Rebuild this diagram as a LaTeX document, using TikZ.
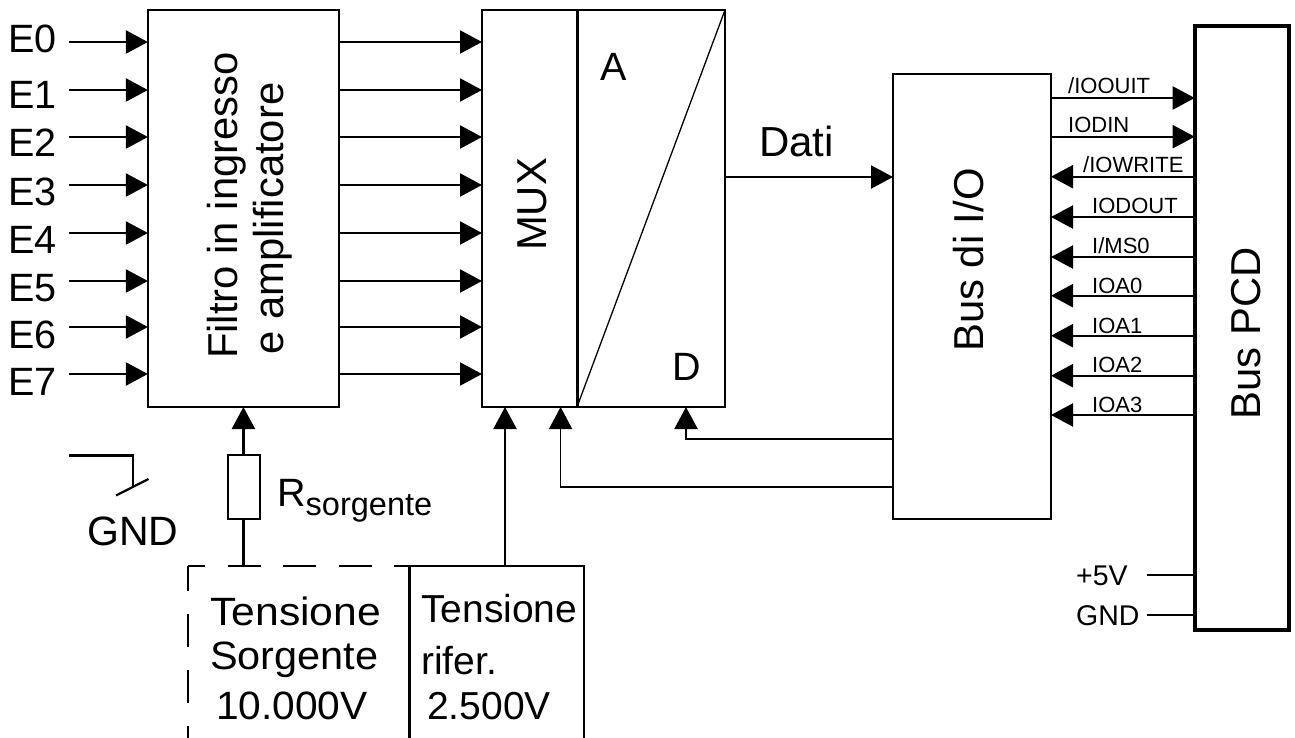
\documentclass[tikz,border=0pt]{standalone}
\usepackage{fontspec}
\setmainfont{Liberation Sans}
\usetikzlibrary{arrows.meta,calc}
\newcommand{\fsz}[1]{\fontsize{#1}{#1}\selectfont}
\newcommand{\wider}[2]{\scalebox{#1}[1]{#2}}
\tikzset{
  x=1pt,y=-1pt,
  box/.style={draw=black,line width=2.2pt,fill=none,inner sep=0pt,outer sep=0pt,minimum width=#1},
  wire/.style={draw=black,line width=2.2pt},
  thinwire/.style={draw=black,line width=1.3pt},
  arr/.style={wire,-{Triangle[length=22pt,width=23pt]}},
  big/.style={inner sep=0pt,anchor=base west,font=\fsz{39.5}},
  mid/.style={inner sep=0pt,anchor=base west,font=\fsz{28.5}},
  small/.style={inner sep=0pt,anchor=base west,font=\fsz{22}},
  vert/.style={inner sep=0pt,rotate=90,anchor=base,font=\fsz{41.8}},
}
\begin{document}
\begin{tikzpicture}
\useasboundingbox (0,0) rectangle (1295,738);
% blocks
\node[box=191pt,minimum height=397pt] (filter) at (243.4,208.5) {};
\node[box=95pt,minimum height=397pt] (mux) at (529.5,208.5) {};
\node[box=148pt,minimum height=397pt] (adc) at (651,208.5) {};
\node[box=158pt,minimum height=445pt] (bio) at (972,296.5) {};
\node[draw=black,line width=4pt,inner sep=0pt,outer sep=0pt,minimum width=94pt,minimum height=603pt] (pcd) at (1241.7,328) {};
\node[draw=black,line width=2.2pt,inner sep=0pt,outer sep=0pt,minimum width=32pt,minimum height=64pt] (res) at (244,487) {};
% divider and diagonal of the converter
\draw[draw=black,line width=3pt] (mux.north east) -- (mux.south east);
\draw[thinwire] (adc.south west) -- (adc.north east);
% block texts
\node[vert] (tfilter) at (237,205.5) {Filtro in ingresso};
\node[vert] (tfilterb) at (283,218.5) {e amplificatore};
\node[vert] (tmux) at (546,204.5) {MUX};
\node[vert] (tbio) at (983,260) {Bus di I/O};
\node[vert] (tpcd) at (1260,333.5) {Bus PCD};
\node[big] (ta) at (600,81) {A};
\node[big] (td) at (672.5,380) {D};
% inputs and filter outputs
\foreach \i/\y/\b in {0/42/53,1/90/109,2/137/157,3/185/205,4/233/253,5/281/301.5,6/327/348,7/374/395}{
  \node[big] (le\i) at (8,\b) {E\i};
  \coordinate (ine\i) at (69,\y);
  \draw[arr] (ine\i) -- (ine\i -| filter.west);
  \coordinate (oute\i) at (filter.east |- ine\i);
  \draw[arr] (oute\i) -- (oute\i -| mux.west);
}
% data
\coordinate (dati) at (adc.east |- 0,177);
\draw[arr] (dati) -- (dati -| bio.west);
\node[big,font=\fsz{42}] (tdati) at (759,157) {Dati};
% PCD to I/O signals
\coordinate (s1) at (bio.east |- 0,98);
\coordinate (s2) at (bio.east |- 0,136.7);
\draw[arr] (s1) -- (s1 -| pcd.west);
\draw[arr] (s2) -- (s2 -| pcd.west);
\node[small] (n1) at (1068,94) {/IOOUIT};
\node[small] (n2) at (1068,132.5) {IODIN};
\foreach \k/\y/\b/\tx/\t in {3/176.7/173/1083/{/IOWRITE},4/217/213/1092/{IODOUT},5/257/253/1092/{I/MS0},6/295.7/293/1092/{IOA0},7/335.7/333/1092/{IOA1},8/375.7/372/1092/{IOA2},9/415/412/1092/{IOA3}}{
  \coordinate (s\k) at (pcd.west |- 0,\y);
  \draw[arr] (s\k) -- (s\k -| bio.east);
  \node[small] (n\k) at (\tx,\b) {\t};
}
% control lines from I/O bus
\coordinate (c1) at (bio.west |- 0,439);
\coordinate (c1t) at (686,439);
\draw[arr] (c1) -- (c1t) -- (c1t |- adc.south);
\coordinate (c2) at (bio.west |- 0,487);
\coordinate (c2t) at (560.6,487);
\draw[thinwire,-{Triangle[length=22pt,width=23pt]}] (c2) -- (c2t) -- (c2t |- mux.south);
% resistor
\draw[arr] (res.north -| filter.south) -- (filter.south);
\coordinate (rb) at (243.4,566);
\draw[wire] (res.south -| rb) -- (rb);
\node[big] (tr) at (277,506.5) {R\raisebox{-9pt}{\fsz{32.5}sorgente}};
% voltage sources
\coordinate (vtl) at (188,566);
\coordinate (vbl) at (188,738);
\coordinate (vd) at (409.5,566);
\coordinate (vdb) at (409.5,738);
\coordinate (vtr) at (584,566);
\coordinate (vbr) at (584,738);
\draw[wire,dash pattern=on 33pt off 22.5pt,dash phase=16pt] (vtl) -- (vd);
\draw[wire,dash pattern=on 33pt off 23pt,dash phase=8pt] (vtl) -- (vbl);
\draw[wire] (vdb) -- (vd) -- (vtr) -- (vbr);
\coordinate (vref) at (505,566);
\draw[arr] (vref) -- (vref |- mux.south);
\node[big] (t1) at (210,625) {\wider{1.08}{Tensione}};
\node[big] (t2) at (210,669) {\wider{1.05}{Sorgente}};
\node[big] (t3) at (216,719) {\wider{1.03}{10.000V}};
\node[big,font=\fsz{39}] (t4) at (421,622.5) {Tensione};
\node[big,font=\fsz{39}] (t5) at (421,674) {rifer.};
\node[big,font=\fsz{39}] (t6) at (427,719) {2.500V};
% GND switch
\coordinate (g1) at (69,455.5);
\coordinate (g2) at (133,455.5);
\coordinate (g3) at (133,487);
\coordinate (g4) at (116,495.5);
\coordinate (g5) at (148.5,479);
\draw[wire] (g1) -- (g2) -- (g3);
\draw[wire] (g4) -- (g5);
\node[big,font=\fsz{41}] (tg) at (87,545.5) {GND};
% supply
\coordinate (p1) at (1147,574.7);
\coordinate (p2) at (1147,614.7);
\draw[wire] (p1) -- (p1 -| pcd.west);
\draw[wire] (p2) -- (p2 -| pcd.west);
\node[mid] (tp1) at (1076,585.7) {+5V};
\node[mid] (tp2) at (1076,625.7) {GND};
\end{tikzpicture}
\end{document}
